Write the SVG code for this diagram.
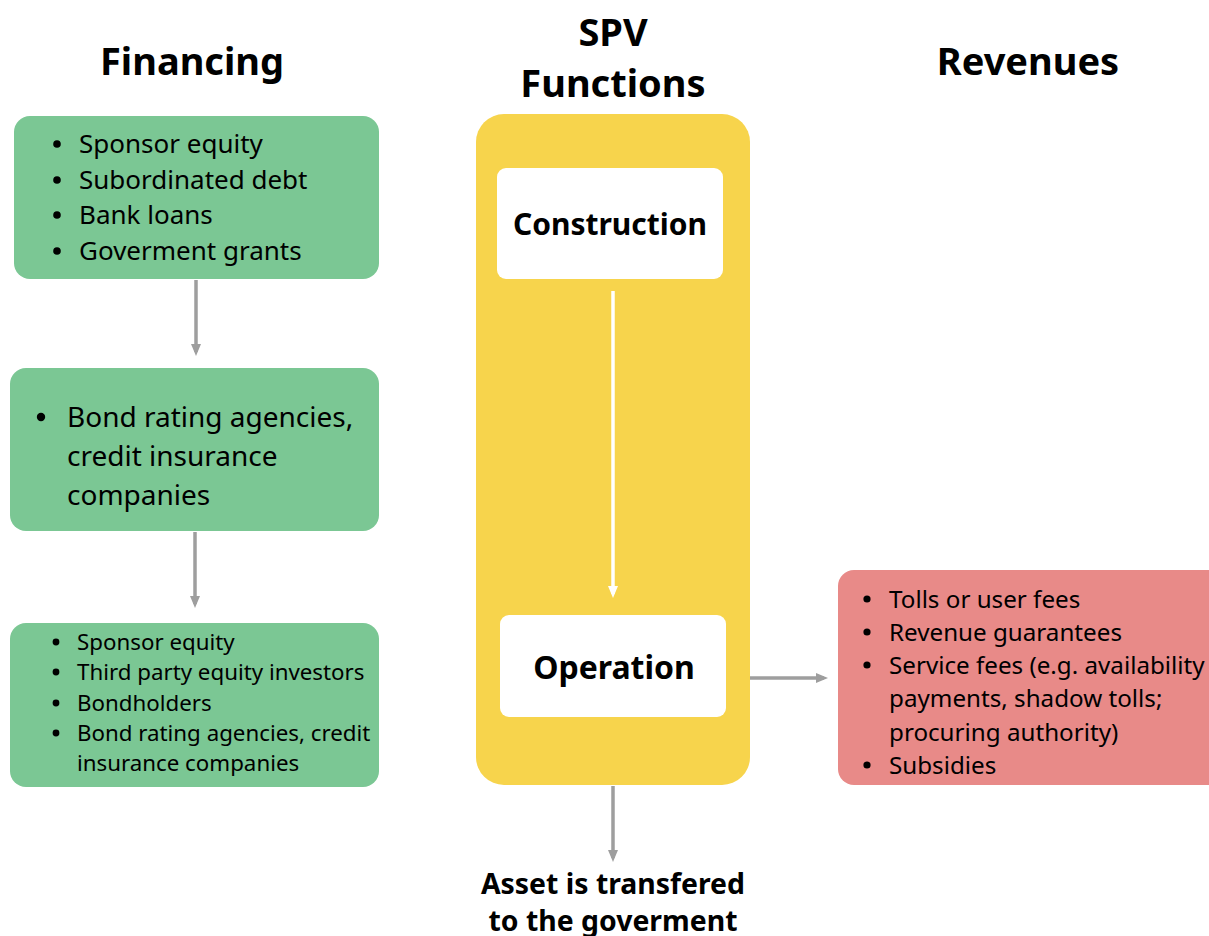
<svg xmlns="http://www.w3.org/2000/svg" width="1209" height="936" viewBox="0 0 1209 936">
<style>
text{font-family:"Noto Sans","Open Sans","DejaVu Sans",sans-serif;fill:#000}
.h{font-weight:700;font-size:38px;text-anchor:middle}
.green{fill:#7BC794}
.b1{font-size:26px}
.b2{font-size:28px}
.b3{font-size:22.3px}
.b4{font-size:24.2px}
.lbl{font-weight:700;text-anchor:middle}
.gc{stroke:#9E9E9E;stroke-width:3.5;fill:none}
</style>
<defs>
<marker id="ag" markerWidth="12" markerHeight="10" refX="8" refY="5" orient="auto" markerUnits="userSpaceOnUse">
<path d="M0,0 L12,5 L0,10 Z" fill="#9E9E9E"/>
</marker>
<marker id="aw" markerWidth="12" markerHeight="10" refX="8" refY="5" orient="auto" markerUnits="userSpaceOnUse">
<path d="M0,0 L12,5 L0,10 Z" fill="#FFFFFF"/>
</marker>
</defs>
<rect width="1209" height="936" fill="#FFFFFF"/>

<g id="titles">
<text class="h" x="192" y="75">Financing</text>
<text class="h" x="613" y="46">SPV</text>
<text class="h" x="613" y="97">Functions</text>
<text class="h" x="1028" y="75">Revenues</text>
</g>

<g id="spv">
<rect x="476" y="114" width="274" height="671" rx="28" fill="#F7D44C"/>
</g>

<g id="financing1">
<rect class="green" x="14" y="116" width="365" height="163" rx="16"/>
<g class="b1">
<circle cx="57" cy="144" r="3.8"/><text x="79" y="153">Sponsor equity</text>
<circle cx="57" cy="180" r="3.8"/><text x="79" y="189">Subordinated debt</text>
<circle cx="57" cy="215" r="3.8"/><text x="79" y="224">Bank loans</text>
<circle cx="57" cy="251" r="3.8"/><text x="79" y="260">Goverment grants</text>
</g>
</g>

<g id="financing2">
<rect class="green" x="10" y="368" width="369" height="163" rx="16"/>
<g class="b2">
<circle cx="41" cy="417" r="4.2"/>
<text x="67" y="427">Bond rating agencies,</text>
<text x="67" y="466">credit insurance</text>
<text x="67" y="505">companies</text>
</g>
</g>

<g id="financing3">
<rect class="green" x="10" y="623" width="369" height="164" rx="16"/>
<g class="b3">
<circle cx="56" cy="642" r="3.4"/><text x="77" y="650">Sponsor equity</text>
<circle cx="56" cy="672" r="3.4"/><text x="77" y="680">Third party equity investors</text>
<circle cx="56" cy="703" r="3.4"/><text x="77" y="711">Bondholders</text>
<circle cx="56" cy="733" r="3.4"/><text x="77" y="741">Bond rating agencies, credit</text>
<text x="77" y="771">insurance companies</text>
</g>
</g>

<g id="construction">
<rect x="497" y="168" width="226" height="111" rx="9" fill="#FFFFFF"/>
<text class="lbl" x="610" y="235" font-size="30">Construction</text>
</g>

<g id="operation">
<rect x="500" y="615" width="226" height="102" rx="9" fill="#FFFFFF"/>
<text class="lbl" x="614" y="679" font-size="32">Operation</text>
</g>

<g id="revenues">
<rect x="838" y="570" width="390" height="215" rx="16" fill="#E88A88"/>
<g class="b4">
<circle cx="867" cy="599" r="3.6"/><text x="889" y="608">Tolls or user fees</text>
<circle cx="867" cy="632" r="3.6"/><text x="889" y="641">Revenue guarantees</text>
<circle cx="867" cy="665" r="3.6"/><text x="889" y="674">Service fees (e.g. availability</text>
<text x="889" y="707">payments, shadow tolls;</text>
<text x="889" y="741">procuring authority)</text>
<circle cx="867" cy="765" r="3.6"/><text x="889" y="774">Subsidies</text>
</g>
</g>

<g id="asset">
<text class="lbl" x="613" y="894" font-size="28.4">Asset is transfered</text>
<text class="lbl" x="613" y="931" font-size="28.4">to the goverment</text>
</g>

<g id="connectors">
<line class="gc" x1="196" y1="280" x2="196" y2="352" marker-end="url(#ag)"/>
<line class="gc" x1="195" y1="532" x2="195" y2="604" marker-end="url(#ag)"/>
<line class="gc" x1="613" y1="786" x2="613" y2="858" marker-end="url(#ag)"/>
<line class="gc" x1="750" y1="678" x2="824" y2="678" marker-end="url(#ag)"/>
<line x1="613" y1="291" x2="613" y2="594" stroke="#FFFFFF" stroke-width="3.5" marker-end="url(#aw)"/>
</g>
</svg>
